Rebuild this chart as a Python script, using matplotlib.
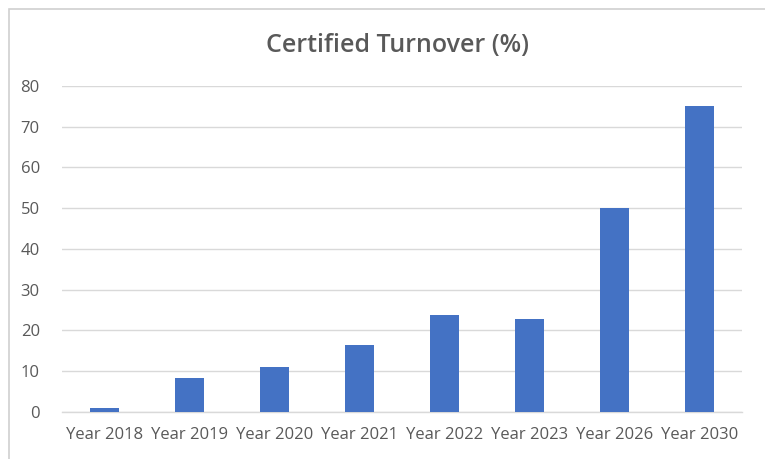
import matplotlib.pyplot as plt
from matplotlib.patches import Rectangle

years = ["Year 2018", "Year 2019", "Year 2020", "Year 2021",
         "Year 2022", "Year 2023", "Year 2026", "Year 2030"]
turnover = [0.8, 8.2, 11.0, 16.5, 23.8, 22.7, 50.0, 75.0]
y_ticks = [0, 10, 20, 30, 40, 50, 60, 70, 80]

BAR = "#4472c4"
TEXT = "#595959"
GRID = "#d9d9d9"

plt.rcParams["font.family"] = ["Open Sans", "DejaVu Sans"]

fig = plt.figure(figsize=(7.65, 4.59), dpi=100)
fig.patch.set_facecolor("white")

# thin frame around the chart area
fig.patches.append(Rectangle((9 / 765, -0.01), 1.2, 1 - 9 / 459 + 0.01,
                             transform=fig.transFigure, fill=False,
                             edgecolor="#d0d0d0", linewidth=1.2))

ax = fig.add_axes([62 / 765, (459 - 411.7) / 459, 680 / 765, 325.7 / 459])
x = range(len(years))
ax.bar(x, turnover, width=0.33, color=BAR, zorder=3)

ax.set_xlim(-0.5, len(years) - 0.5)
ax.set_ylim(0, 80)
ax.set_yticks(y_ticks)
ax.set_xticks(list(x))
ax.set_xticklabels(years)
ax.yaxis.grid(True, color=GRID, linewidth=1.0, zorder=0)
ax.set_axisbelow(True)

for side in ["top", "right", "left"]:
    ax.spines[side].set_visible(False)
ax.spines["bottom"].set_color(GRID)
ax.spines["bottom"].set_linewidth(1.0)

ax.tick_params(axis="both", length=0, colors=TEXT, labelsize=12)
ax.tick_params(axis="y", pad=16)
ax.tick_params(axis="x", pad=11)

fig.text(0.519, 0.900, "Certified Turnover (%)", ha="center", va="center",
         fontsize=18, fontweight="semibold", color=TEXT)

fig.savefig("out.png", dpi=100)
